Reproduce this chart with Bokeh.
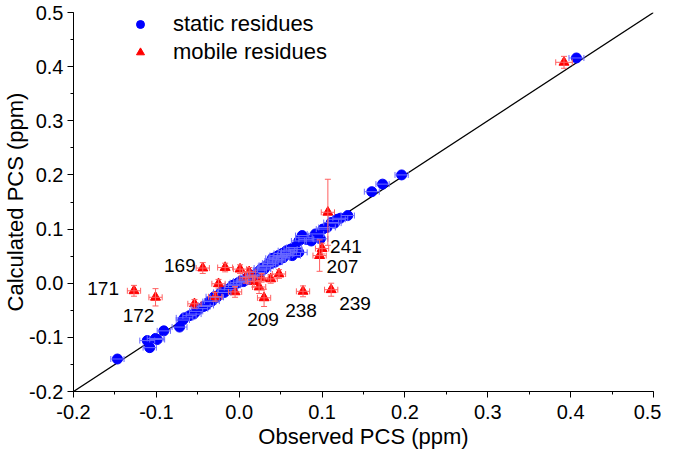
from bokeh.plotting import figure
from bokeh.models import (ColumnDataSource, Whisker, TeeHead, Range1d,
                          SingleIntervalTicker, NumeralTickFormatter)
from bokeh.core.properties import value
from bokeh.embed import file_html
from bokeh.resources import INLINE

# ---------------- data ----------------
static_obs = [-0.147, -0.111, -0.108, -0.101, -0.099, -0.091, -0.072, -0.068, -0.066, -0.060,
              -0.055, -0.052, -0.048, -0.043, -0.040, -0.036, -0.033, -0.030, -0.027, -0.022,
              -0.018, -0.015, -0.010, -0.008, -0.005, -0.001, 0.002, 0.005, 0.008, 0.010,
              0.013, 0.016, 0.020, 0.022, 0.025, 0.028, 0.030, 0.032, 0.034, 0.036,
              0.038, 0.040, 0.041, 0.043, 0.044, 0.045, 0.047, 0.048, 0.050, 0.052,
              0.053, 0.055, 0.057, 0.058, 0.060, 0.062, 0.064, 0.066, 0.068, 0.072,
              0.072, 0.076, 0.078, 0.081, 0.087, 0.092, 0.098, 0.101, 0.106, 0.111,
              0.115, 0.118, 0.122, 0.131, 0.160, 0.173, 0.196, 0.407]
static_calc = [-0.140, -0.106, -0.119, -0.102, -0.104, -0.088, -0.081, -0.068, -0.064, -0.060,
               -0.057, -0.052, -0.047, -0.043, -0.041, -0.034, -0.033, -0.025, -0.026, -0.017,
               -0.017, -0.012, -0.008, -0.004, -0.002, 0.001, 0.004, 0.003, 0.006, 0.011,
               0.012, 0.014, 0.015, 0.020, 0.024, 0.028, 0.026, 0.031, 0.033, 0.037,
               0.036, 0.046, 0.041, 0.039, 0.048, 0.044, 0.051, 0.043, 0.049, 0.055,
               0.047, 0.052, 0.060, 0.054, 0.058, 0.063, 0.051, 0.066, 0.062, 0.057,
               0.078, 0.088, 0.084, 0.081, 0.078, 0.091, 0.082, 0.100, 0.103, 0.112,
               0.111, 0.118, 0.120, 0.125, 0.169, 0.183, 0.200, 0.416]
static_xerr = [0.008, 0.009, 0.008, 0.010, 0.009, 0.008, 0.009, 0.008, 0.010, 0.008,
               0.009, 0.008, 0.010, 0.008, 0.009, 0.008, 0.009, 0.010, 0.008, 0.009,
               0.008, 0.010, 0.008, 0.009, 0.008, 0.010, 0.009, 0.008, 0.010, 0.008,
               0.009, 0.008, 0.010, 0.009, 0.008, 0.010, 0.008, 0.009, 0.010, 0.008,
               0.009, 0.008, 0.010, 0.009, 0.008, 0.009, 0.010, 0.008, 0.009, 0.010,
               0.008, 0.009, 0.010, 0.008, 0.009, 0.008, 0.010, 0.009, 0.008, 0.010,
               0.009, 0.008, 0.010, 0.009, 0.008, 0.010, 0.009, 0.008, 0.010, 0.009,
               0.008, 0.010, 0.009, 0.008, 0.009, 0.008, 0.008, 0.009]

mobile_obs = [-0.127, -0.101, -0.054, -0.044, -0.029, -0.025, -0.017, -0.005, 0.001, 0.008,
              0.012, 0.018, 0.024, 0.027, 0.030, 0.038, 0.048, 0.077, 0.097, 0.100,
              0.107, 0.111, 0.392]
mobile_calc = [-0.014, -0.026, -0.038, 0.028, -0.025, -0.001, 0.029, -0.016, 0.026, 0.010,
               0.021, 0.003, -0.007, 0.010, -0.027, 0.008, 0.017, -0.015, 0.051, 0.064,
               0.131, -0.012, 0.408]
mobile_xerr = [0.008, 0.008, 0.008, 0.008, 0.008, 0.008, 0.009, 0.008, 0.008, 0.008,
               0.008, 0.008, 0.008, 0.008, 0.008, 0.008, 0.008, 0.008, 0.008, 0.008,
               0.008, 0.008, 0.010]
mobile_yerr = [0.010, 0.016, 0.008, 0.010, 0.008, 0.008, 0.008, 0.010, 0.008, 0.010,
               0.008, 0.010, 0.012, 0.008, 0.016, 0.008, 0.008, 0.010, 0.029, 0.010,
               0.061, 0.012, 0.011]

label_text = ["171", "172", "169", "209", "238", "239", "207", "241"]
label_obs = [-0.127, -0.101, -0.044, 0.030, 0.077, 0.111, 0.097, 0.100]
label_calc = [-0.014, -0.026, 0.028, -0.027, -0.015, -0.012, 0.051, 0.064]

diag = [-0.2, 0.5]

# ---------------- style ----------------
FONT = "Liberation Sans"
BLUE = "#0000ff"
RED = "#ff0000"
BLUE_ERR = "#6a6aff"
RED_ERR = "#ff6060"

label_dx = [-15, -17, -7, -1, -2, 8, 7, 8]
label_dy = [-2, 18, -3, 22, 19, 14, 11, -2]
label_align = ["right", "center", "right", "center", "center", "left", "left", "left"]

p = figure(width=661, height=455, x_range=Range1d(-0.2, 0.5), y_range=Range1d(-0.2, 0.5),
           output_backend="svg", toolbar_location=None,
           min_border_left=68, min_border_right=8, min_border_top=12, min_border_bottom=64)
p.outline_line_color = None
p.xgrid.visible = False
p.ygrid.visible = False

for ax in (p.xaxis[0], p.yaxis[0]):
    ax.ticker = SingleIntervalTicker(interval=0.1, num_minor_ticks=2)
    ax.formatter = NumeralTickFormatter(format="0.0")
    ax.major_label_text_font = FONT
    ax.major_label_text_font_size = "20px"
    ax.major_label_text_color = "black"
    ax.axis_label_text_font = FONT
    ax.axis_label_text_font_size = "22px"
    ax.axis_label_text_font_style = "normal"
    ax.axis_label_text_color = "black"
    ax.axis_line_color = "black"
    ax.major_tick_line_color = "black"
    ax.minor_tick_line_color = "black"
    ax.major_tick_out = 6
    ax.major_tick_in = 0
    ax.minor_tick_out = 3
    ax.minor_tick_in = 0

p.xaxis.axis_label = "Observed PCS (ppm)"
p.yaxis.axis_label = "Calculated PCS (ppm)"
p.xaxis.major_label_standoff = 7
p.xaxis.axis_label_standoff = 2
p.yaxis.major_label_standoff = 4
p.yaxis.axis_label_standoff = -2

# diagonal y = x
p.line(diag, diag, line_color="black", line_width=1.3)

# static residues
s_src = ColumnDataSource(dict(
    x=static_obs, y=static_calc,
    xl=[a - e for a, e in zip(static_obs, static_xerr)],
    xu=[a + e for a, e in zip(static_obs, static_xerr)]))
p.add_layout(Whisker(source=s_src, base="y", lower="xl", upper="xu", dimension="width",
                     line_color=BLUE_ERR, line_width=1, level="glyph",
                     upper_head=TeeHead(size=6, line_color=BLUE_ERR, line_width=1),
                     lower_head=TeeHead(size=6, line_color=BLUE_ERR, line_width=1)))
p.scatter("x", "y", source=s_src, marker="circle", size=10, fill_color=BLUE,
          line_color=BLUE, legend_label="static residues")

# mobile residues
m_src = ColumnDataSource(dict(
    x=mobile_obs, y=mobile_calc,
    xl=[a - e for a, e in zip(mobile_obs, mobile_xerr)],
    xu=[a + e for a, e in zip(mobile_obs, mobile_xerr)],
    yl=[a - e for a, e in zip(mobile_calc, mobile_yerr)],
    yu=[a + e for a, e in zip(mobile_calc, mobile_yerr)]))
for dim, base, lo, hi in (("width", "y", "xl", "xu"), ("height", "x", "yl", "yu")):
    p.add_layout(Whisker(source=m_src, base=base, lower=lo, upper=hi, dimension=dim,
                         line_color=RED_ERR, line_width=1, level="glyph",
                         upper_head=TeeHead(size=6, line_color=RED_ERR, line_width=1),
                         lower_head=TeeHead(size=6, line_color=RED_ERR, line_width=1)))
p.scatter("x", "y", source=m_src, marker="triangle", size=10, fill_color=RED,
          line_color=RED, legend_label="mobile residues")

# residue labels
l_src = ColumnDataSource(dict(x=label_obs, y=label_calc, t=label_text,
                              dx=label_dx, dy=label_dy, al=label_align))
p.text("x", "y", text="t", source=l_src, x_offset="dx", y_offset="dy",
       text_align="al", text_baseline="middle", text_font=value(FONT),
       text_font_size="19px", text_color="black")

lg = p.legend[0]
lg.location = (57, 325)
lg.border_line_color = None
lg.background_fill_alpha = 0
lg.padding = 1
lg.margin = 0
lg.spacing = 0
lg.glyph_width = 20
lg.glyph_height = 28
lg.label_height = 28
lg.label_standoff = 23
lg.label_text_font = FONT
lg.label_text_font_size = "22px"
lg.label_text_color = "black"

open("out.html", "w").write(file_html(p, INLINE))
